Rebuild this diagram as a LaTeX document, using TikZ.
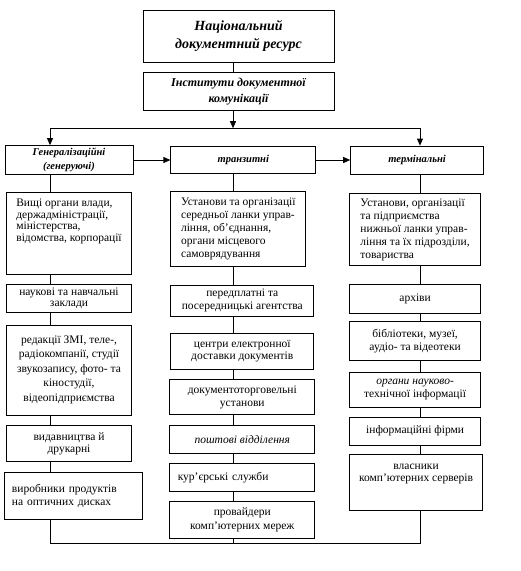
\documentclass[tikz,border=0pt]{standalone}
\usepackage{fontspec}
\setmainfont{Liberation Serif}
\usetikzlibrary{positioning,arrows.meta}

\newcommand{\padbelow}[1]{\rule[-#1]{0pt}{#1}}

\tikzset{
  cell/.style={rectangle,draw,align=center,inner sep=2pt,
    font=\fontsize{11.5}{12.5}\selectfont},
  lcell/.style={cell,align=left},
  head/.style={cell,font=\fontsize{10.5}{14}\selectfont\bfseries\itshape},
}

\begin{document}
\begin{tikzpicture}[x=1pt,y=-1pt,line width=0.8pt,>={Triangle[length=7pt,width=6pt]}]
      \useasboundingbox (0,0) rectangle (521,571);
      % resource and institutes
      \node[cell,minimum width=191pt,minimum height=52pt,font=\fontsize{14}{18}\selectfont\bfseries\itshape] (resource) at (238.5,36) {Національний\\документний ресурс};
      \node[cell,below=10pt of resource,minimum width=191pt,minimum height=38pt,font=\fontsize{12}{16}\selectfont\bfseries\itshape] (inst) {Інститути документної\\комунікації};
      % spines
      \coordinate (lx) at (50,0);
      \coordinate (mx) at (233,0);
      \coordinate (rx) at (420,0);
      \coordinate[below=17pt of inst] (split);
      \coordinate (bottom) at (0,543);
      % headers
      \node[head,minimum width=128pt,minimum height=29pt] (gen) at (69,160) {Генералізаційні\\(генеруючі)};
      \node[head,right=37pt of gen,minimum width=145pt,minimum height=27pt] (tran) {транзитні};
      \node[head,right=34pt of tran,minimum width=133pt,minimum height=28pt] (term) {термінальні};
      % generalising
      \node[lcell,below=17pt of gen,minimum width=125pt,minimum height=82pt,font=\fontsize{11.5}{11.5}\selectfont] (organy) {Вищі органи влади,\\держадміністрації,\\міністерства,\\відомства, корпорації\padbelow{26pt}};
      \node[cell,below=9pt of organy,minimum width=125pt,minimum height=28pt,font=\fontsize{11.5}{11.5}\selectfont] (nauk) {наукові та навчальні\\заклади};
      \node[cell,below=12pt of nauk,minimum width=125pt,minimum height=90pt,font=\fontsize{11.5}{14.5}\selectfont] (media) {редакції ЗМІ, теле-,\\радіокомпанії, студії\\звукозапису, фото- та\\кіностудії,\\відеопідприємства};
      \node[cell,below=10pt of media,minimum width=125pt,minimum height=36pt] (vydav) {видавництва й\\друкарні};
      \node[lcell,below=10pt of vydav,xshift=4pt,text width=122pt,inner xsep=8pt,minimum height=47pt] (optic) {виробники продуктів\\на оптичних дисках};
      % transit
      \node[lcell,below=17pt of tran,xshift=-5pt,minimum width=135pt,minimum height=75pt,font=\fontsize{11.5}{13}\selectfont] (seredni) {Установи та організації\\середньої ланки управ-\\ління, об’єднання,\\органи місцевого\\самоврядування};
      \node[cell,below=18pt of seredni,xshift=4pt,minimum width=143pt,minimum height=31pt] (agent) {передплатні та\\посередницькі агентства};
      \node[cell,below=16pt of agent,minimum width=143pt,minimum height=36pt] (centr) {центри електронної\\доставки документів};
      \node[cell,below=10pt of centr,minimum width=145pt,minimum height=35pt] (torg) {документоторговельні\\установи};
      \node[cell,below=10pt of torg,minimum width=145pt,minimum height=28pt] (posht) {\textit{поштові відділення}};
      \node[lcell,below=9pt of posht,text width=129pt,inner xsep=8pt,minimum height=28pt] (kur) {кур’єрські служби};
      \node[cell,below=9pt of kur,minimum width=145pt,minimum height=37pt,font=\fontsize{11.5}{14}\selectfont] (prov) {провайдери\\комп’ютерних мереж};
      % terminal
      \node[lcell,below=19pt of term,xshift=-2pt,minimum width=131pt,minimum height=72pt,font=\fontsize{11.5}{13}\selectfont] (nyzhni) {Установи, організації\\та підприємства\\нижньої ланки управ-\\ління та їх підрозділи,\\товариства};
      \node[cell,below=18pt of nyzhni,minimum width=131pt,minimum height=29pt] (arkhiv) {архіви};
      \node[cell,below=7pt of arkhiv,minimum width=131pt,minimum height=39pt,font=\fontsize{11.5}{13.5}\selectfont] (bibl) {бібліотеки, музеї,\\аудіо- та відеотеки};
      \node[cell,below=11pt of bibl,minimum width=131pt,minimum height=35pt] (nti) {\textit{органи науково-}\\технічної інформації};
      \node[cell,below=9pt of nti,minimum width=131pt,minimum height=28pt] (firmy) {інформаційні фірми};
      \node[cell,below=9pt of firmy,xshift=1pt,minimum width=133pt,minimum height=56pt,font=\fontsize{11.5}{11.5}\selectfont] (vlasn) {власники\\комп’ютерних серверів\padbelow{20pt}};
      % top links
      \draw (resource.south -| mx) -- (inst.north -| mx);
      \draw[->] (inst.south -| mx) -- (split -| mx);
      \draw (split -| lx) -- (split -| rx);
      \draw[->] (split -| lx) -- (gen.north -| lx);
      \draw[->] (split -| rx) -- (term.north -| rx);
      \draw[->] (gen) -- (tran);
      \draw[->] (tran) -- (term);
      % generalising links
      \draw (gen.south -| lx) -- (organy.north -| lx);
      \draw (organy.south -| lx) -- (nauk.north -| lx);
      \draw (nauk.south -| lx) -- (media.north -| lx);
      \draw (media.south -| lx) -- (vydav.north -| lx);
      \draw (vydav.south -| lx) -- (optic.north -| lx);
      % transit links
      \draw (tran.south -| mx) -- (seredni.north -| mx);
      \draw (seredni.south -| mx) -- (agent.north -| mx);
      \draw (agent.south -| mx) -- (centr.north -| mx);
      \draw (centr.south -| mx) -- (torg.north -| mx);
      \draw (torg.south -| mx) -- (posht.north -| mx);
      \draw (posht.south -| mx) -- (kur.north -| mx);
      \draw (kur.south -| mx) -- (prov.north -| mx);
      % terminal links
      \draw (term.south -| rx) -- (nyzhni.north -| rx);
      \draw (nyzhni.south -| rx) -- (arkhiv.north -| rx);
      \draw (arkhiv.south -| rx) -- (bibl.north -| rx);
      \draw (bibl.south -| rx) -- (nti.north -| rx);
      \draw (nti.south -| rx) -- (firmy.north -| rx);
      \draw (firmy.south -| rx) -- (vlasn.north -| rx);
      % closing line
      \draw (optic.south -| lx) -- (bottom -| lx) -- (bottom -| rx) -- (vlasn.south -| rx);
      \draw (prov.south -| mx) -- (bottom -| mx);
    \end{tikzpicture}
\end{document}
